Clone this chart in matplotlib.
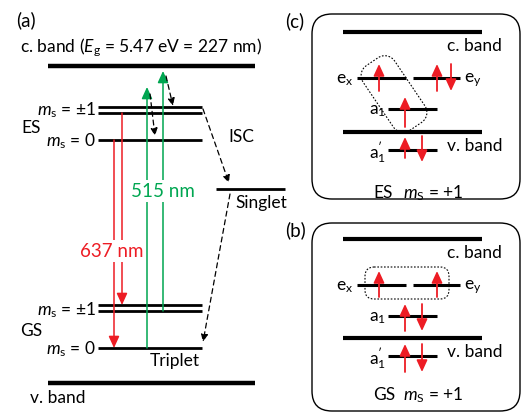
import numpy as np
import matplotlib.pyplot as plt
from matplotlib.patches import FancyBboxPatch, FancyArrowPatch

plt.rcParams['font.family'] = ['Lato', 'DejaVu Sans']
plt.rcParams['mathtext.fontset'] = 'custom'
plt.rcParams['mathtext.rm'] = 'Lato'
plt.rcParams['mathtext.it'] = 'Lato:italic'

RED = '#ed1c24'
GREEN = '#00a651'
FS = 12.5

# ---- panel (a): energy levels, pixel layout (y grows downward) ----
band_x = [48, 255]
cband_y, vband_y = 67, 384
level_x = [98, 202]
es_pm1_y = [108, 114]
es_0_y = 141
gs_pm1_y = [306, 312]
gs_0_y = 349
singlet = [216, 285, 190]

# optical transitions: (x, y_start, y_end)
red_arrows = [(122, 114, 306), (114, 141, 349)]
green_arrows = [(147, 349, 88), (163, 312, 72)]
# non-radiative paths: (x0, y0, x1, y1)
dashed_arrows = [(166, 77, 173, 107), (150, 95, 155, 137),
                 (203, 110, 229, 184), (230, 195, 203, 343)]

# ---- panels (b), (c): orbital diagrams ----
box_x = [312, 520]
boxes_y = {'c': (15, 200), 'b': (224, 412)}
cv_x = [343, 482]
ex_x, ey_x, a_x = [357, 406], [413, 460], [388, 437]
levels_c = {'cb': 33, 'e': 79, 'a1': 110, 'vb': 133, 'a1p': 151}
levels_b = {'cb': 240, 'e': 286, 'a1': 317, 'vb': 339, 'a1p': 357}
# spin arrows: (x, y_tail, y_head)
spins_c = [(379, 92, 65), (437, 92, 65), (451, 65, 92),
           (405, 128, 98), (405, 159, 138), (422, 137, 163)]
spins_b = [(379, 298, 272), (437, 298, 272),
           (405, 332, 305), (422, 305, 332),
           (405, 373, 345), (422, 345, 373)]

fig = plt.figure(figsize=(5.21, 4.14), dpi=100)
ax = fig.add_axes([0, 0, 1, 1])
ax.set_xlim(0, 521)
ax.set_ylim(414, 0)
ax.axis('off')


def hline(x, y, lw=2.0):
    ax.plot(x, [y, y], color='black', lw=lw, solid_capstyle='butt', zorder=2)


def arrow(x0, y0, x1, y1, color, lw=1.3, hl=7, hw=3, ls='-', z=3):
    a = FancyArrowPatch((x0, y0), (x1, y1), arrowstyle=f'-|>,head_length={hl},head_width={hw}',
                        mutation_scale=1, shrinkA=0, shrinkB=0, color=color, lw=lw,
                        linestyle=ls, zorder=z)
    ax.add_patch(a)


# panel (a)
ax.text(26, 20, '(a)', fontsize=13.5, ha='center', va='center')
ax.text(20, 48, r'c. band ($E_\mathrm{g}$ = 5.47 eV = 227 nm)', fontsize=FS, va='center')
hline(band_x, cband_y, 3.2)
hline(band_x, vband_y, 3.2)
for y in es_pm1_y + [es_0_y] + gs_pm1_y + [gs_0_y]:
    hline(level_x, y, 2.0)
hline(singlet[:2], singlet[2], 2.0)

ax.text(96, 110, r'$m_\mathrm{s}$ = ±1', fontsize=FS, ha='right', va='center')
ax.text(21, 128, 'ES', fontsize=FS, ha='left', va='center')
ax.text(96, 141, r'$m_\mathrm{s}$ = 0', fontsize=FS, ha='right', va='center')
ax.text(96, 310, r'$m_\mathrm{s}$ = ±1', fontsize=FS, ha='right', va='center')
ax.text(20, 331, 'GS', fontsize=FS, ha='left', va='center')
ax.text(96, 349, r'$m_\mathrm{s}$ = 0', fontsize=FS, ha='right', va='center')
ax.text(241, 137, 'ISC', fontsize=FS, ha='center', va='center')
ax.text(235, 203, 'Singlet', fontsize=FS, ha='left', va='center')
ax.text(150, 361, 'Triplet', fontsize=FS, ha='left', va='center')
ax.text(30, 398, 'v. band', fontsize=FS, ha='left', va='center')

for x, y0, y1 in red_arrows:
    arrow(x, y0, x, y1, RED, lw=1.1, hl=7, hw=3.2)
for x, y0, y1 in green_arrows:
    arrow(x, y0, x, y1, GREEN, lw=1.1, hl=7, hw=3.2)
for x0, y0, x1, y1 in dashed_arrows:
    arrow(x0, y0, x1, y1, 'black', lw=0.9, hl=4.5, hw=2, ls=(0, (4, 3)))

ax.text(112, 252, '637 nm', fontsize=13.5, color=RED, ha='center', va='center',
        bbox=dict(fc='white', ec='none', pad=1.5), zorder=5)
ax.text(163, 192, '515 nm', fontsize=13.5, color=GREEN, ha='center', va='center',
        bbox=dict(fc='white', ec='none', pad=1.5), zorder=5)


# panels (b) and (c)
def orbital_panel(tag, levels, spins, state, label_y):
    y0, y1 = boxes_y[tag]
    ax.add_patch(FancyBboxPatch((box_x[0], y0), box_x[1] - box_x[0], y1 - y0,
                                boxstyle='round,pad=0,rounding_size=20',
                                fc='none', ec='black', lw=1.0, zorder=1))
    ax.text(295, y0 + 6, f'({tag})', fontsize=13.5, ha='center', va='center')
    hline(cv_x, levels['cb'], 3.0)
    hline(cv_x, levels['vb'], 3.0)
    hline(ex_x, levels['e'], 2.2)
    hline(ey_x, levels['e'], 2.2)
    hline(a_x, levels['a1'], 2.2)
    hline(a_x, levels['a1p'], 2.2)
    ax.text(447, levels['cb'] + 13, 'c. band', fontsize=FS, ha='left', va='center')
    ax.text(447, levels['vb'] + 13, 'v. band', fontsize=FS, ha='left', va='center')
    ax.text(353, levels['e'] + 1, r'e$_\mathrm{x}$', fontsize=FS, ha='right', va='center')
    ax.text(464, levels['e'] + 1, r'e$_\mathrm{y}$', fontsize=FS, ha='left', va='center')
    ax.text(386, levels['a1'] + 1, r'a$_1$', fontsize=FS, ha='right', va='center')
    ax.text(386, levels['a1p'] + 1, r'a$_1^{\prime}$', fontsize=FS, ha='right', va='center')
    ax.text(373, label_y, state, fontsize=FS, ha='left', va='center')
    ax.text(403, label_y, r'$m_\mathrm{S}$ = +1', fontsize=FS, ha='left', va='center')
    for x, ya, yb in spins:
        arrow(x, ya, x, yb, RED, lw=1.3, hl=7, hw=3.2, z=4)


orbital_panel('c', levels_c, spins_c, 'ES', 193)
orbital_panel('b', levels_b, spins_b, 'GS', 395)

# dotted outline around unpaired spins
ax.add_patch(FancyBboxPatch((365, 268), 84, 32, boxstyle='round,pad=0,rounding_size=9',
                            fc='none', ec='black', lw=0.8, ls=(0, (1.5, 1.5)), zorder=3))


def rounded_rect(cx, cy, L, W, r, ang_deg, n=12):
    pts = []
    hx, hy = L / 2 - r, W / 2 - r
    for (sx, sy, a0) in [(1, 1, 0), (-1, 1, 90), (-1, -1, 180), (1, -1, 270)]:
        t = np.radians(np.linspace(a0, a0 + 90, n))
        pts.append(np.c_[sx * hx + r * np.cos(t), sy * hy + r * np.sin(t)])
    p = np.vstack(pts + [pts[0][:1]])
    a = np.radians(ang_deg)
    R = np.array([[np.cos(a), -np.sin(a)], [np.sin(a), np.cos(a)]])
    p = p @ R.T
    return p[:, 0] + cx, p[:, 1] + cy


xs, ys = rounded_rect(394, 95, 78, 38, 12, 56)
ax.plot(xs, ys, color='black', lw=0.8, ls=(0, (1.5, 1.5)), zorder=3)

fig.savefig('out.png', dpi=100)
